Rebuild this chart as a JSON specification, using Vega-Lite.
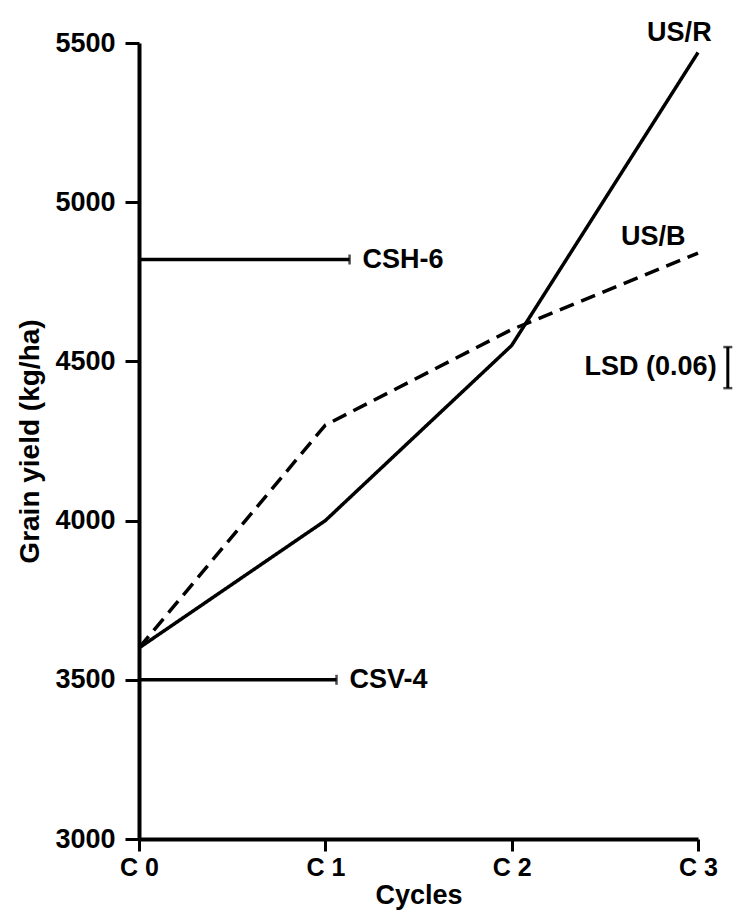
{
  "$schema": "https://vega.github.io/schema/vega-lite/v6.json",
  "width": 559,
  "height": 796,
  "autosize": {"type": "none"},
  "padding": {"left": 139, "top": 43, "right": 38, "bottom": 76},
  "background": "white",
  "config": {
    "view": {"stroke": null},
    "font": "Liberation Sans",
    "axis": {
      "grid": false,
      "domainColor": "black",
      "tickColor": "black",
      "labelColor": "black",
      "titleColor": "black",
      "labelFont": "Liberation Sans",
      "titleFont": "Liberation Sans",
      "labelFontWeight": "bold",
      "titleFontWeight": "bold"
    }
  },
  "datasets": {
    "yield": [
      {"cycle": 0, "value": 3600, "population": "US/R"},
      {"cycle": 1, "value": 4000, "population": "US/R"},
      {"cycle": 2, "value": 4550, "population": "US/R"},
      {"cycle": 3, "value": 5470, "population": "US/R"},
      {"cycle": 0, "value": 3600, "population": "US/B"},
      {"cycle": 1, "value": 4300, "population": "US/B"},
      {"cycle": 2, "value": 4600, "population": "US/B"},
      {"cycle": 3, "value": 4840, "population": "US/B"}
    ],
    "checks": [
      {"check": "CSH-6", "start": 0, "end": 1.13, "value": 4820, "labelAt": 1.2},
      {"check": "CSV-4", "start": 0, "end": 1.06, "value": 3500, "labelAt": 1.13}
    ],
    "names": [
      {"text": "US/R", "cycle": 2.9, "value": 5530},
      {"text": "US/B", "cycle": 2.76, "value": 4890}
    ],
    "lsd": [
      {"cycle": 3.16, "low": 4416, "high": 4545, "label": "LSD (0.06)", "labelAt": 3.1, "labelValue": 4482}
    ]
  },
  "layer": [
    {
      "data": {"name": "yield"},
      "mark": {"type": "line", "color": "black", "strokeWidth": 3.5, "strokeCap": "butt"},
      "encoding": {
        "x": {
          "field": "cycle", "type": "quantitative",
          "scale": {"domain": [0, 3], "nice": false, "zero": false},
          "axis": {
            "values": [0, 1, 2, 3],
            "labelExpr": "'C ' + datum.value",
            "title": "Cycles",
            "labelFontSize": 25,
            "titleFontSize": 27,
            "tickSize": 12,
            "tickWidth": 3,
            "domainWidth": 4,
            "labelPadding": 4,
            "titlePadding": 2,
            "labelFlush": false
          }
        },
        "y": {
          "field": "value", "type": "quantitative",
          "scale": {"domain": [3000, 5500], "nice": false, "zero": false},
          "axis": {
            "values": [3000, 3500, 4000, 4500, 5000, 5500],
            "format": "d",
            "title": "Grain yield (kg/ha)",
            "labelFontSize": 27,
            "titleFontSize": 28,
            "tickSize": 14,
            "tickWidth": 3,
            "domainWidth": 4,
            "labelPadding": 10,
            "titlePadding": 10,
            "labelFlush": false
          }
        },
        "detail": {"field": "population"},
        "strokeDash": {
          "field": "population", "type": "nominal",
          "scale": {"domain": ["US/R", "US/B"], "range": [[1, 0], [15, 8]]},
          "legend": null
        }
      }
    },
    {
      "data": {"name": "checks"},
      "mark": {"type": "rule", "color": "black", "strokeWidth": 3.5},
      "encoding": {
        "x": {"field": "start", "type": "quantitative"},
        "x2": {"field": "end"},
        "y": {"field": "value", "type": "quantitative"}
      }
    },
    {
      "data": {"name": "checks"},
      "mark": {"type": "tick", "orient": "vertical", "color": "black", "size": 10, "thickness": 2.5},
      "encoding": {
        "x": {"field": "end", "type": "quantitative"},
        "y": {"field": "value", "type": "quantitative"}
      }
    },
    {
      "data": {"name": "checks"},
      "mark": {"type": "text", "align": "left", "baseline": "middle", "fontSize": 27, "fontWeight": "bold", "font": "Liberation Sans", "color": "black"},
      "encoding": {
        "x": {"field": "labelAt", "type": "quantitative"},
        "y": {"field": "value", "type": "quantitative"},
        "text": {"field": "check"}
      }
    },
    {
      "data": {"name": "names"},
      "mark": {"type": "text", "align": "center", "baseline": "middle", "fontSize": 27, "fontWeight": "bold", "font": "Liberation Sans", "color": "black"},
      "encoding": {
        "x": {"field": "cycle", "type": "quantitative"},
        "y": {"field": "value", "type": "quantitative"},
        "text": {"field": "text"}
      }
    },
    {
      "data": {"name": "lsd"},
      "mark": {"type": "rule", "color": "black", "strokeWidth": 3},
      "encoding": {
        "x": {"field": "cycle", "type": "quantitative"},
        "y": {"field": "low", "type": "quantitative"},
        "y2": {"field": "high"}
      }
    },
    {
      "data": {"name": "lsd"},
      "mark": {"type": "tick", "orient": "horizontal", "color": "black", "size": 9, "thickness": 2.5},
      "encoding": {
        "x": {"field": "cycle", "type": "quantitative"},
        "y": {"field": "low", "type": "quantitative"}
      }
    },
    {
      "data": {"name": "lsd"},
      "mark": {"type": "tick", "orient": "horizontal", "color": "black", "size": 9, "thickness": 2.5},
      "encoding": {
        "x": {"field": "cycle", "type": "quantitative"},
        "y": {"field": "high", "type": "quantitative"}
      }
    },
    {
      "data": {"name": "lsd"},
      "mark": {"type": "text", "align": "right", "baseline": "middle", "fontSize": 27, "fontWeight": "bold", "font": "Liberation Sans", "color": "black"},
      "encoding": {
        "x": {"field": "labelAt", "type": "quantitative"},
        "y": {"field": "labelValue", "type": "quantitative"},
        "text": {"field": "label"}
      }
    }
  ]
}
